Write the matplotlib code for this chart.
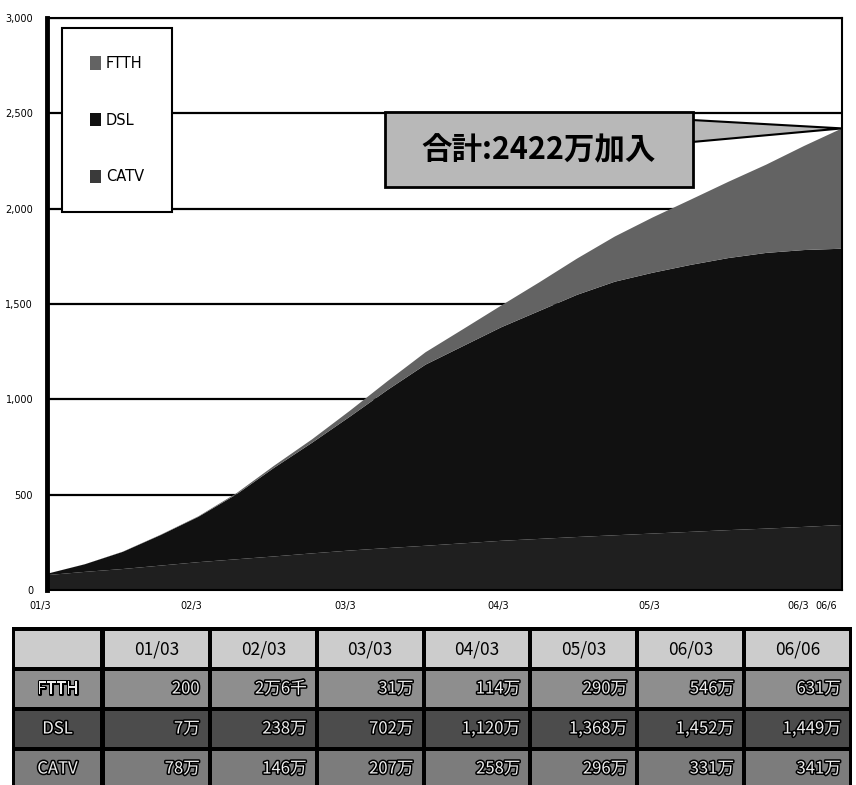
import matplotlib
matplotlib.use('Agg')
import matplotlib.pyplot as plt
import matplotlib.patheffects as pe
from matplotlib import font_manager as fm
from matplotlib.patches import Patch, Rectangle, Polygon
from matplotlib.transforms import ScaledTranslation

# broadband subscribers in Japan, unit: 10,000 (万), quarterly
quarters = ['01/3', '01/6', '01/9', '01/12', '02/3', '02/6', '02/9', '02/12',
            '03/3', '03/6', '03/9', '03/12', '04/3', '04/6', '04/9', '04/12',
            '05/3', '05/6', '05/9', '05/12', '06/3', '06/6']
ftth = [0.02, 0.3, 1.0, 1.8, 2.6, 6, 11, 18, 31, 46, 65, 89, 114, 150, 190, 237,
        290, 342, 400, 463, 546, 631]
dsl = [7, 40, 90, 160, 238, 340, 465, 580, 702, 830, 950, 1035, 1120, 1195, 1270, 1330,
       1368, 1400, 1427, 1446, 1452, 1449]
catv = [78, 95, 110, 128, 146, 161, 176, 192, 207, 220, 232, 245, 258, 268, 278, 287,
        296, 305, 314, 322, 331, 341]

tick_labels = ['01/3', '02/3', '03/3', '04/3', '05/3', '06/3', '06/6']
tick_idx = [0, 4, 8, 12, 16, 20, 21]

# table under the chart
table_cols = ['01/03', '02/03', '03/03', '04/03', '05/03', '06/03', '06/06']
table_rows = ['FTTH', 'DSL', 'CATV']
ftth_txt = ['200', '2万6千', '31万', '114万', '290万', '546万', '631万']
dsl_txt = ['7万', '238万', '702万', '1,120万', '1,368万', '1,452万', '1,449万']
catv_txt = ['78万', '146万', '207万', '258万', '296万', '331万', '341万']

total_label = '合計:2422万加入'

# fonts
names = {f.name for f in fm.fontManager.ttflist}
latin = 'Liberation Sans Narrow' if 'Liberation Sans Narrow' in names else 'DejaVu Sans'
cjk = ['Noto Sans CJK JP', latin, 'DejaVu Sans']
plt.rcParams['font.family'] = [latin, 'DejaVu Sans']

c_ftth, c_dsl, c_catv = '#636363', '#111111', '#1f1f1f'

fig = plt.figure(figsize=(8.56, 7.85), dpi=100)
W, H = 856, 785
ax = fig.add_axes([47 / W, (H - 590) / H, (842 - 47) / W, (590 - 18) / H])

x = [3 * i for i in range(len(quarters))]
ax.stackplot(x, catv, dsl, ftth, colors=[c_catv, c_dsl, c_ftth], lw=0, zorder=2)

ax.set_xlim(0, x[-1])
ax.set_ylim(0, 3000)
ax.set_yticks(range(0, 3001, 500))
ax.set_yticklabels([f'{v:,}' for v in range(0, 3001, 500)], fontsize=7)
ax.set_xticks([x[i] for i in tick_idx])
ax.set_xticklabels(tick_labels, fontsize=7)
ax.tick_params(length=0)
ax.tick_params(axis='y', pad=10)
ax.tick_params(axis='x', pad=8)
shifts = [-7, -7, -5, -3, -3, -6, -16]
for lab, s in zip(ax.get_xticklabels(), shifts):
    lab.set_transform(lab.get_transform() + ScaledTranslation(s / 100, 0, fig.dpi_scale_trans))

ax.yaxis.grid(True, color='black', lw=1.6, zorder=1)
ax.set_axisbelow(True)
for sp in ax.spines.values():
    sp.set_linewidth(1.5)
ax.spines['left'].set_linewidth(3.5)

handles = [Patch(fc=c_ftth, ec='none'), Patch(fc=c_dsl, ec='none'), Patch(fc='#3a3a3a', ec='none')]
leg = ax.legend(handles, ['FTTH', 'DSL', 'CATV'], loc='upper left',
                bbox_to_anchor=(0.019, 0.982), borderaxespad=0, fancybox=False,
                framealpha=1, edgecolor='black', fontsize=10.5, labelspacing=2.85,
                borderpad=1.9, handlelength=0.75, handleheight=1.0, handletextpad=0.35)
leg.get_frame().set_linewidth(1.5)

# overlay axes in pixel coordinates for callout and table
tax = fig.add_axes([0, 0, 1, 1])
tax.set_xlim(0, W)
tax.set_ylim(H, 0)
tax.axis('off')
tax.patch.set_visible(False)

# callout pointing at the last total
tip = tax.transData.inverted().transform(
    ax.transData.transform((x[-1], ftth[-1] + dsl[-1] + catv[-1])))
tax.add_patch(Polygon([(692, 120), tuple(tip), (692, 142)], closed=True,
                      fc='#b8b8b8', ec='black', lw=1.5, zorder=1))
tax.add_patch(Rectangle((385, 112), 308, 75, fc='#b8b8b8', ec='black', lw=2, zorder=2))
tax.text(539, 150, total_label, fontsize=22, fontweight='bold', family=cjk,
         ha='center', va='center', zorder=3)

# table
tax.add_patch(Rectangle((12, 627), 840, 160, fc='black', ec='none'))
col_x = [(15, 100)]
pitch = (849 - 105 + 4) / 7
for i in range(7):
    x0 = 105 + i * pitch
    col_x.append((x0, x0 + pitch - 4))
row_y = [631, 671, 711, 751]
row_h = 36
row_fc = ['#cccccc', '#8e8e8e', '#4c4c4c', '#7c7c7c']
stroke = [pe.withStroke(linewidth=2.2, foreground='black')]

rows_txt = [ftth_txt, dsl_txt, catv_txt]
for r, y0 in enumerate(row_y):
    for c, (x0, x1) in enumerate(col_x):
        tax.add_patch(Rectangle((x0, y0), x1 - x0, row_h, fc=row_fc[r], ec='none'))
        yc = y0 + row_h / 2
        if r == 0:
            if c > 0:
                tax.text((x0 + x1) / 2, yc, table_cols[c - 1], fontsize=12.5,
                         ha='center', va='center', color='black', family=cjk)
        elif c == 0:
            tax.text((x0 + x1) / 2, yc, table_rows[r - 1], fontsize=12, ha='center',
                     va='center', color='#eeeeee', family=cjk, path_effects=stroke)
        else:
            tax.text(x1 - 8, yc, rows_txt[r - 1][c - 1], fontsize=12, ha='right',
                     va='center', color='#eeeeee', family=cjk, path_effects=stroke)

fig.savefig('out.png', dpi=100)
